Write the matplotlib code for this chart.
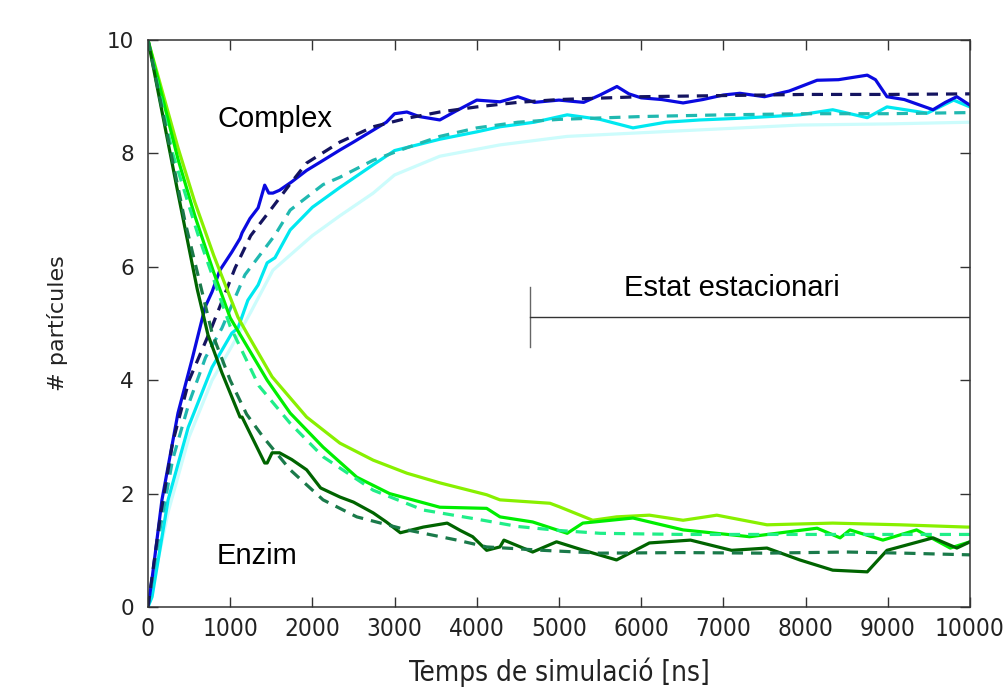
import matplotlib
matplotlib.use("Agg")
import matplotlib.pyplot as plt

# ---- Complex (particle count rising) ----
cplx_sim1_t = [0, 50, 170, 365, 535, 695, 780, 875, 1020, 1120, 1145, 1240, 1340, 1420, 1470,
               1520, 1600, 1750, 1930, 2100, 2335, 2500, 2740, 2900, 3000, 3150, 3300, 3550,
               3750, 4000, 4282, 4500, 4700, 5000, 5300, 5500, 5705, 5850, 6000, 6250, 6510,
               6750, 7000, 7200, 7500, 7800, 8140, 8400, 8750, 8850, 8990, 9200, 9550, 9700,
               9840, 10000]
cplx_sim1 = [0, 0.5, 1.89, 3.42, 4.36, 5.29, 5.56, 5.94, 6.26, 6.5, 6.6, 6.85, 7.04, 7.44, 7.3,
             7.3, 7.35, 7.5, 7.7, 7.85, 8.06, 8.2, 8.41, 8.55, 8.7, 8.73, 8.65, 8.59,
             8.75, 8.94, 8.91, 9.0, 8.9, 8.94, 8.9, 9.03, 9.18, 9.05, 8.98, 8.95, 8.89,
             8.95, 9.03, 9.06, 9.0, 9.1, 9.29, 9.3, 9.38, 9.3, 9.0, 8.95, 8.77, 8.9,
             9.0, 8.85]

cplx_sim2_t = [0, 50, 245, 490, 780, 1020, 1095, 1215, 1340, 1450, 1545, 1730, 2000, 2335, 2740,
               3000, 3550, 4000, 4282, 4700, 5100, 5500, 5900, 6300, 6715, 7200, 7930, 8330,
               8750, 8990, 9480, 9800, 10000]
cplx_sim2 = [0, 0.18, 1.89, 3.17, 4.23, 4.83, 4.92, 5.41, 5.68, 6.07, 6.16, 6.65, 7.05, 7.4, 7.8,
             8.05, 8.25, 8.38, 8.47, 8.55, 8.68, 8.6, 8.45, 8.55, 8.59, 8.62, 8.68, 8.77,
             8.63, 8.82, 8.71, 8.94, 8.82]

cplx_sim3_t = [0, 250, 500, 780, 1020, 1250, 1520, 2000, 2335, 2740, 3000, 3550, 4282, 5100,
               6500, 7930, 9000, 10000]
cplx_sim3 = [0, 1.7, 3.0, 4.0, 4.6, 5.2, 5.94, 6.55, 6.9, 7.3, 7.62, 7.95, 8.15, 8.3,
             8.4, 8.5, 8.52, 8.55]

cplx_mod1_t = [0, 150, 300, 500, 780, 1060, 1250, 1510, 1750, 1930, 2335, 2740, 3150, 3550,
               4000, 4500, 5000, 6000, 7000, 8000, 9000, 10000]
cplx_mod1 = [0, 1.6, 2.9, 4.0, 4.95, 5.98, 6.55, 7.04, 7.5, 7.83, 8.2, 8.47, 8.62, 8.73,
             8.82, 8.9, 8.95, 9.0, 9.02, 9.04, 9.04, 9.05]

cplx_mod2_t = [0, 150, 300, 500, 700, 900, 1180, 1545, 1730, 2130, 2335, 2740, 3150, 3550,
               4000, 4500, 5000, 6000, 7000, 8000, 9000, 10000]
cplx_mod2 = [0, 1.4, 2.6, 3.6, 4.4, 4.92, 5.86, 6.56, 7.0, 7.45, 7.58, 7.88, 8.1, 8.3,
             8.45, 8.55, 8.6, 8.65, 8.68, 8.7, 8.7, 8.72]

# ---- Enzim (free enzyme decaying) ----
enz_sim1_t = [0, 365, 570, 800, 1095, 1215, 1510, 1930, 2335, 2740, 3150, 3550, 4120, 4282,
              4890, 5000, 5410, 5700, 6100, 6510, 6920, 7530, 8330, 9150, 9960, 10000]
enz_sim1 = [10, 8.1, 7.14, 6.2, 5.11, 4.8, 4.06, 3.35, 2.89, 2.59, 2.36, 2.19, 1.98, 1.89,
            1.83, 1.77, 1.53, 1.59, 1.62, 1.53, 1.62, 1.45, 1.48, 1.45, 1.41, 1.41]

enz_sim2_t = [0, 365, 570, 800, 1000, 1450, 1730, 2130, 2540, 2940, 3550, 4120, 4282, 4680,
              5100, 5290, 5900, 6510, 7320, 8140, 8420, 8540, 8940, 9350, 9760, 10000]
enz_sim2 = [10, 7.9, 6.9, 5.9, 5.1, 4.0, 3.42, 2.82, 2.29, 2.0, 1.76, 1.74, 1.59, 1.5,
            1.3, 1.48, 1.57, 1.36, 1.24, 1.39, 1.22, 1.36, 1.18, 1.36, 1.04, 1.15]

enz_sim3_t = [0, 365, 600, 730, 900, 1120, 1145, 1420, 1450, 1510, 1600, 1750, 1930, 2100,
              2335, 2500, 2740, 2900, 3070, 3350, 3640, 3800, 3950, 4120, 4282, 4330, 4680,
              4970, 5300, 5700, 6100, 6600, 7100, 7530, 7930, 8330, 8750, 8990, 9550, 9840,
              10000]
enz_sim3 = [10, 7.3, 5.6, 4.8, 4.13, 3.35, 3.35, 2.54, 2.54, 2.72, 2.72, 2.6, 2.42, 2.1,
            1.94, 1.85, 1.66, 1.5, 1.31, 1.41, 1.48, 1.35, 1.24, 1.0, 1.06, 1.18, 0.97,
            1.15, 1.0, 0.83, 1.13, 1.18, 1.0, 1.04, 0.83, 0.65, 0.62, 1.0, 1.22, 1.04,
            1.15]

enz_mod1_t = [0, 300, 610, 1000, 1350, 1730, 2130, 2740, 3350, 4000, 4500, 5000, 5500, 6500,
              8000, 10000]
enz_mod1 = [10, 8.0, 6.56, 4.95, 3.9, 3.24, 2.65, 2.06, 1.71, 1.55, 1.42, 1.35, 1.3, 1.28,
            1.28, 1.28]

enz_mod2_t = [0, 450, 780, 1000, 1200, 1400, 1730, 2130, 2540, 3150, 3760, 4120, 4800, 5500,
              6500, 7500, 8500, 9200, 10000]
enz_mod2 = [10, 6.8, 4.83, 4.0, 3.4, 3.0, 2.42, 1.89, 1.59, 1.36, 1.18, 1.06, 1.0, 0.95,
            0.96, 0.95, 0.97, 0.95, 0.92]

x_ticks = [0, 1000, 2000, 3000, 4000, 5000, 6000, 7000, 8000, 9000, 10000]
y_ticks = [0, 2, 4, 6, 8, 10]

fig = plt.figure(figsize=(10.08, 6.92), dpi=100)
ax = fig.add_axes([0.1468, 0.1228, 0.8155, 0.8194])

lw = 2.3
dash = (0, (3.5, 2.5))

# complex
ax.plot(cplx_sim3_t, cplx_sim3, color="#ccfcfc", lw=lw)
ax.plot(cplx_sim2_t, cplx_sim2, color="#00e8f0", lw=lw)
ax.plot(cplx_sim1_t, cplx_sim1, color="#0a0ae0", lw=lw)
ax.plot(cplx_mod2_t, cplx_mod2, color="#20b8b0", lw=lw, linestyle=dash)
ax.plot(cplx_mod1_t, cplx_mod1, color="#141460", lw=lw, linestyle=dash)

# enzim
ax.plot(enz_sim1_t, enz_sim1, color="#88f000", lw=lw)
ax.plot(enz_sim2_t, enz_sim2, color="#00ee00", lw=lw)
ax.plot(enz_mod1_t, enz_mod1, color="#20ee88", lw=lw, linestyle=dash)
ax.plot(enz_sim3_t, enz_sim3, color="#006400", lw=lw)
ax.plot(enz_mod2_t, enz_mod2, color="#1a7a4a", lw=lw, linestyle=dash)

# steady-state marker
ax.plot([4647, 4647], [4.58, 5.64], color="#666666", lw=1)
ax.plot([4647, 10000], [5.11, 5.11], color="#333333", lw=1)

ann = dict(family="Liberation Sans", fontsize=21, color="black")
ax.text(840, 8.6, "Complex", ha="left", va="center", **ann)
ax.text(840, 0.9, "Enzim", ha="left", va="center", **ann)
ax.text(7105, 5.63, "Estat estacionari", ha="center", va="center", **ann)

ax.set_xlim(0, 10000)
ax.set_ylim(0, 10)
ax.set_xticks(x_ticks)
ax.set_yticks(y_ticks)
ax.tick_params(direction="in", length=7, width=1, top=True, right=True, color="#333333",
               labelcolor="#222222")
for lab in ax.get_xticklabels():
    lab.set_fontsize(17.5)
    lab.set_fontstretch("condensed")
for lab in ax.get_yticklabels():
    lab.set_fontsize(15.5)
ax.tick_params(axis="x", pad=7)
ax.tick_params(axis="y", pad=10)
for s in ax.spines.values():
    s.set_color("#333333")
    s.set_linewidth(1.1)

ax.set_xlabel("Temps de simulació [ns]", fontsize=20, fontstretch="condensed",
              color="#222222", labelpad=12)
ax.set_ylabel("# partícules", fontsize=16, color="#222222", labelpad=28)

fig.savefig("out.png", dpi=100)
